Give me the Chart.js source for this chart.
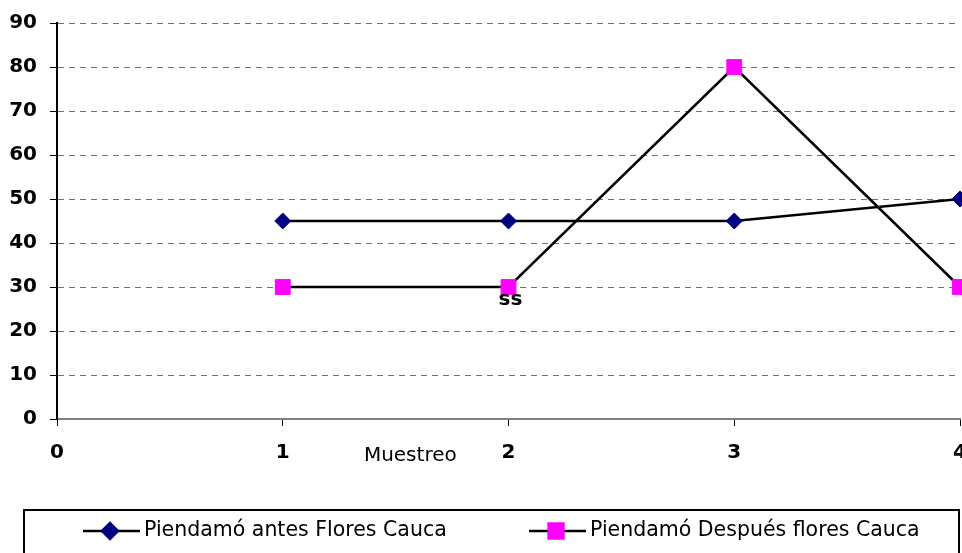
<!DOCTYPE html>
<html>
<head>
<meta charset="utf-8">
<script src="https://cdn.jsdelivr.net/npm/chart.js@4/dist/chart.umd.min.js"></script>
<style>
  html, body { margin: 0; padding: 0; background: #fff; }
  #wrap { width: 962px; height: 553px; }
</style>
</head>
<body>
<div id="wrap"><canvas id="chart" width="962" height="553"></canvas></div>
<script>
const muestreo = [1, 2, 3, 4];
const antes = [45, 45, 45, 50];
const despues = [30, 30, 80, 30];
const seriesNames = ["Piendamó antes Flores Cauca", "Piendamó Después flores Cauca"];
const xTitle = "Muestreo";
const pointNote = { label: "ss", x: 2, y: 30 };

const FONT = "'DejaVu Sans', Verdana, sans-serif";

function toPoints(xs, ys) {
  return xs.map((x, i) => ({ x: x, y: ys[i] }));
}

/* ---- extras: axis title, note, boxed legend ---- */
const extras = {
  id: "extras",
  afterDraw(chart) {
    const ctx = chart.ctx;
    const xs = chart.scales.x, ys = chart.scales.y;
    ctx.save();

    // x title sits between 1 and 2, like the original
    ctx.font = "20px " + FONT;
    ctx.fillStyle = "#000";
    ctx.textAlign = "center";
    ctx.textBaseline = "middle";
    ctx.fillText(xTitle, xs.getPixelForValue(1.565), 456);

    // note under the point
    ctx.font = "bold 20px " + FONT;
    ctx.fillText(pointNote.label, xs.getPixelForValue(pointNote.x) + 2, ys.getPixelForValue(pointNote.y) + 13);

    // legend box
    ctx.lineWidth = 2;
    ctx.strokeStyle = "#000";
    ctx.strokeRect(24, 510, 935, 60);

    const items = [
      { x: 83, ds: chart.data.datasets[0] },
      { x: 529, ds: chart.data.datasets[1] }
    ];
    const ly = 531;
    items.forEach(it => {
      ctx.strokeStyle = "#000";
      ctx.lineWidth = 2.5;
      ctx.beginPath();
      ctx.moveTo(it.x, ly);
      ctx.lineTo(it.x + 57, ly);
      ctx.stroke();
      ctx.save();
      ctx.fillStyle = it.ds.pointBackgroundColor;
      ctx.strokeStyle = it.ds.pointBackgroundColor;
      Chart.helpers.drawPoint(ctx, {
        pointStyle: it.ds.pointStyle,
        radius: it.ds.pointRadius,
        rotation: 0,
        borderWidth: 1
      }, it.x + 27, ly);
      ctx.restore();
      ctx.fillStyle = "#000";
      ctx.font = "20.5px " + FONT;
      ctx.textAlign = "left";
      ctx.textBaseline = "middle";
      ctx.fillText(it.ds.label, it.x + 61, ly);
    });
    ctx.restore();
  }
};

new Chart(document.getElementById("chart"), {
  type: "line",
  data: {
    datasets: [
      {
        label: seriesNames[0],
        data: toPoints(muestreo, antes),
        borderColor: "#000",
        borderWidth: 2.5,
        pointStyle: "rectRot",
        pointRadius: 8,
        pointBackgroundColor: "#000080",
        pointBorderColor: "#000080",
        pointBorderWidth: 1,
        clip: false
      },
      {
        label: seriesNames[1],
        data: toPoints(muestreo, despues),
        borderColor: "#000",
        borderWidth: 2.5,
        pointStyle: "rect",
        pointRadius: 10.5,
        pointBackgroundColor: "#FF00FF",
        pointBorderColor: "#FF00FF",
        pointBorderWidth: 1,
        clip: false
      }
    ]
  },
  options: {
    responsive: false,
    animation: false,
    layout: { autoPadding: false, padding: { top: 23, right: 2, left: 0, bottom: 0 } },
    plugins: {
      legend: { display: false },
      tooltip: { enabled: false }
    },
    scales: {
      x: {
        type: "linear",
        min: 0,
        max: 4,
        ticks: {
          stepSize: 1,
          padding: 15,
          color: "#000",
          font: { family: FONT, size: 20, weight: "bold" }
        },
        grid: {
          drawOnChartArea: false,
          drawTicks: true,
          tickLength: 7,
          tickColor: "#000",
          tickWidth: 1
        },
        border: { color: "#808080", width: 2 },
        afterFit(scale) {
          scale.height = 134;
          scale.paddingLeft = 0;
          scale.paddingRight = 0;
        }
      },
      y: {
        min: 0,
        max: 90,
        ticks: {
          stepSize: 10,
          padding: 13,
          color: "#000",
          font: { family: FONT, size: 20, weight: "bold" }
        },
        grid: {
          color: ctx => ctx.tick && ctx.tick.value === 0 ? "rgba(0,0,0,0)" : "#707070",
          lineWidth: 1,
          tickLength: 7,
          tickColor: "#000",
          tickWidth: 1
        },
        border: { color: "#000", width: 2, dash: [6, 5] },
        afterFit(scale) {
          scale.width = 57;
          scale.paddingTop = 0;
          scale.paddingBottom = 0;
        }
      }
    }
  },
  plugins: [extras]
});
</script>
</body>
</html>
